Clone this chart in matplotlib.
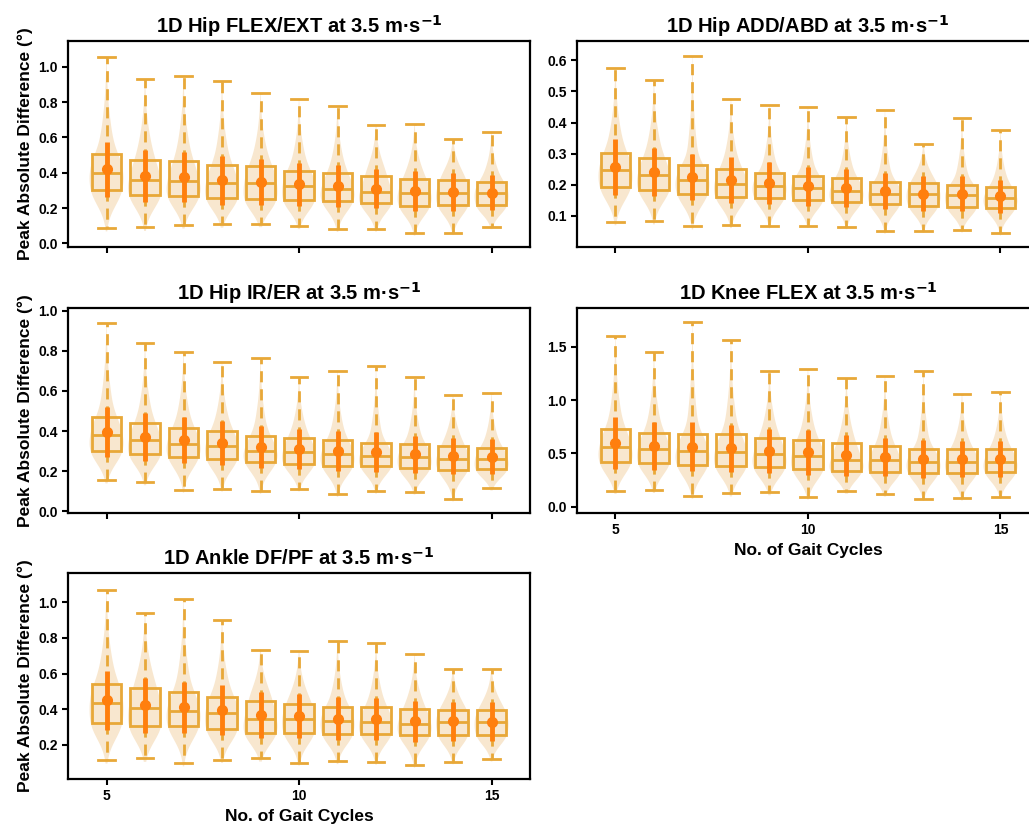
import numpy as np
import matplotlib
import matplotlib.pyplot as plt
from statistics import NormalDist

matplotlib.use('agg')

plt.rcParams['font.family'] = ['Liberation Sans', 'DejaVu Sans']
plt.rcParams['font.weight'] = 'bold'
plt.rcParams['axes.labelweight'] = 'bold'
plt.rcParams['axes.titleweight'] = 'bold'
plt.rcParams['mathtext.fontset'] = 'dejavusans'

cycles = [5, 6, 7, 8, 9, 10, 11, 12, 13, 14, 15]

# Hip FLEX/EXT
flex_lo = [0.089, 0.091, 0.104, 0.108, 0.111, 0.098, 0.081, 0.083, 0.060, 0.062, 0.094]
flex_q1 = [0.300, 0.274, 0.270, 0.258, 0.251, 0.245, 0.240, 0.228, 0.213, 0.217, 0.217]
flex_med = [0.400, 0.358, 0.353, 0.342, 0.342, 0.326, 0.308, 0.291, 0.283, 0.285, 0.283]
flex_q3 = [0.504, 0.472, 0.464, 0.442, 0.436, 0.411, 0.396, 0.383, 0.364, 0.360, 0.345]
flex_hi = [1.053, 0.932, 0.947, 0.919, 0.851, 0.817, 0.779, 0.670, 0.674, 0.592, 0.628]
flex_mean = [0.419, 0.383, 0.377, 0.358, 0.349, 0.336, 0.326, 0.311, 0.298, 0.292, 0.287]
flex_sd = [0.155, 0.146, 0.140, 0.138, 0.130, 0.122, 0.118, 0.112, 0.112, 0.108, 0.100]

# Hip ADD/ABD
add_lo = [0.081, 0.083, 0.066, 0.070, 0.068, 0.069, 0.065, 0.050, 0.053, 0.054, 0.044]
add_q1 = [0.193, 0.184, 0.171, 0.162, 0.159, 0.150, 0.146, 0.137, 0.133, 0.129, 0.126]
add_med = [0.246, 0.230, 0.216, 0.204, 0.197, 0.190, 0.181, 0.172, 0.169, 0.166, 0.158]
add_q3 = [0.303, 0.286, 0.265, 0.252, 0.238, 0.227, 0.221, 0.210, 0.205, 0.200, 0.194]
add_hi = [0.576, 0.536, 0.614, 0.475, 0.457, 0.449, 0.418, 0.440, 0.331, 0.414, 0.376]
add_mean = [0.258, 0.241, 0.224, 0.216, 0.205, 0.195, 0.190, 0.180, 0.172, 0.171, 0.163]
add_sd = [0.090, 0.078, 0.074, 0.073, 0.068, 0.063, 0.060, 0.058, 0.057, 0.056, 0.054]

# Hip IR/ER
rot_lo = [0.156, 0.146, 0.108, 0.113, 0.101, 0.113, 0.086, 0.100, 0.096, 0.061, 0.115]
rot_q1 = [0.302, 0.284, 0.271, 0.261, 0.246, 0.238, 0.226, 0.224, 0.214, 0.208, 0.209]
rot_med = [0.379, 0.354, 0.337, 0.326, 0.302, 0.296, 0.284, 0.277, 0.272, 0.262, 0.261]
rot_q3 = [0.468, 0.440, 0.417, 0.402, 0.377, 0.367, 0.355, 0.342, 0.334, 0.327, 0.317]
rot_hi = [0.940, 0.841, 0.796, 0.746, 0.766, 0.668, 0.701, 0.726, 0.669, 0.580, 0.590]
rot_mean = [0.395, 0.370, 0.354, 0.341, 0.319, 0.312, 0.301, 0.296, 0.284, 0.277, 0.272]
rot_sd = [0.123, 0.121, 0.114, 0.110, 0.104, 0.100, 0.100, 0.100, 0.093, 0.090, 0.088]

# Knee FLEX
knee_lo = [0.150, 0.156, 0.103, 0.125, 0.134, 0.094, 0.147, 0.119, 0.075, 0.078, 0.094]
knee_q1 = [0.419, 0.409, 0.394, 0.384, 0.369, 0.353, 0.338, 0.328, 0.319, 0.319, 0.322]
knee_med = [0.559, 0.538, 0.522, 0.516, 0.491, 0.478, 0.441, 0.434, 0.422, 0.422, 0.422]
knee_q3 = [0.728, 0.691, 0.681, 0.678, 0.644, 0.622, 0.597, 0.572, 0.541, 0.538, 0.541]
knee_hi = [1.597, 1.450, 1.728, 1.563, 1.275, 1.291, 1.206, 1.222, 1.275, 1.056, 1.078]
knee_mean = [0.597, 0.572, 0.563, 0.547, 0.522, 0.509, 0.481, 0.466, 0.447, 0.447, 0.447]
knee_sd = [0.245, 0.226, 0.228, 0.220, 0.205, 0.208, 0.190, 0.178, 0.175, 0.170, 0.170]

# Ankle DF/PF
ank_lo = [0.116, 0.125, 0.097, 0.116, 0.123, 0.099, 0.106, 0.103, 0.086, 0.104, 0.119]
ank_q1 = [0.322, 0.303, 0.303, 0.288, 0.266, 0.267, 0.260, 0.260, 0.252, 0.254, 0.256]
ank_med = [0.434, 0.404, 0.391, 0.378, 0.346, 0.346, 0.335, 0.329, 0.318, 0.326, 0.326]
ank_q3 = [0.543, 0.518, 0.494, 0.470, 0.445, 0.429, 0.410, 0.410, 0.399, 0.393, 0.393]
ank_hi = [1.069, 0.940, 1.019, 0.901, 0.734, 0.728, 0.785, 0.773, 0.708, 0.627, 0.627]
ank_mean = [0.449, 0.421, 0.410, 0.393, 0.367, 0.361, 0.346, 0.342, 0.331, 0.331, 0.329]
ank_sd = [0.165, 0.156, 0.145, 0.140, 0.130, 0.125, 0.120, 0.118, 0.115, 0.110, 0.110]

BOX_C = '#E8A838'
MEAN_C = '#FF7F0E'
Z_KNOTS = [-2.9, -0.6745, 0.0, 0.6745, 2.9]
nd = NormalDist()


def violin_stats(lo, q1, med, q3, hi):
    """Smooth density shape through the five-number summary."""
    p = np.linspace(0.002, 0.998, 400)
    z = np.array([nd.inv_cdf(v) for v in p])
    pts = np.interp(z, Z_KNOTS, [lo, q1, med, q3, hi])
    coords = np.linspace(lo - 0.1 * (q3 - q1), hi, 200)
    bw = 0.3 * (q3 - q1)
    vals = np.exp(-0.5 * ((coords[:, None] - pts[None, :]) / bw) ** 2).sum(axis=1)
    return dict(coords=coords, vals=vals, mean=np.mean(pts), median=med,
                min=lo, max=hi, quantiles=[])


def panel(ax, title, lo, q1, med, q3, hi, mean, sd, ylim, yticks):
    vps = [violin_stats(*s) for s in zip(lo, q1, med, q3, hi)]
    parts = ax.violin(vps, positions=cycles, widths=0.88,
                      showmeans=False, showextrema=False, showmedians=False)
    for b in parts['bodies']:
        b.set_facecolor('#E9B060')
        b.set_edgecolor('none')
        b.set_alpha(0.3)
    stats = [dict(whislo=a, q1=b, med=c, q3=d, whishi=e, fliers=[])
             for a, b, c, d, e in zip(lo, q1, med, q3, hi)]
    ax.bxp(stats, positions=cycles, widths=0.76, patch_artist=True,
           boxprops=dict(facecolor='none', edgecolor=BOX_C, linewidth=2),
           medianprops=dict(color=BOX_C, linewidth=2),
           whiskerprops=dict(color=BOX_C, linewidth=2, linestyle=(0, (4, 2.5))),
           capprops=dict(color=BOX_C, linewidth=2), capwidths=0.42,
           manage_ticks=False)
    ax.errorbar(cycles, mean, yerr=sd, fmt='o', color=MEAN_C, ms=7,
                elinewidth=3.5, capsize=0, zorder=5)
    ax.set_title(title, fontsize=14.5, pad=6)
    ax.set_xlim(4, 16)
    ax.set_xticks([5, 10, 15])
    ax.set_ylim(*ylim)
    ax.set_yticks(yticks)
    for s in ax.spines.values():
        s.set_linewidth(1.6)
    ax.tick_params(width=1.5, length=4, labelsize=10)


fig = plt.figure(figsize=(10.29, 8.24), dpi=100)
W, H = 0.449, 0.25
ax1 = fig.add_axes([0.0661, 0.7002, W, H])
ax2 = fig.add_axes([0.5607, 0.7002, W, H])
ax3 = fig.add_axes([0.0661, 0.3774, W, 0.2488])
ax4 = fig.add_axes([0.5607, 0.3774, W, 0.2488])
ax5 = fig.add_axes([0.0661, 0.0546, W, H])

unit = r' at 3.5 m·s$^{\mathbf{-1}}$'
panel(ax1, '1D Hip FLEX/EXT' + unit, flex_lo, flex_q1, flex_med, flex_q3, flex_hi,
      flex_mean, flex_sd, (-0.02, 1.145), np.arange(0, 1.01, 0.2))
panel(ax2, '1D Hip ADD/ABD' + unit, add_lo, add_q1, add_med, add_q3, add_hi,
      add_mean, add_sd, (0.0, 0.662), np.arange(0.1, 0.61, 0.1))
panel(ax3, '1D Hip IR/ER' + unit, rot_lo, rot_q1, rot_med, rot_q3, rot_hi,
      rot_mean, rot_sd, (-0.008, 1.013), np.arange(0, 1.01, 0.2))
panel(ax4, '1D Knee FLEX' + unit, knee_lo, knee_q1, knee_med, knee_q3, knee_hi,
      knee_mean, knee_sd, (-0.06, 1.863), [0.0, 0.5, 1.0, 1.5])
panel(ax5, '1D Ankle DF/PF' + unit, ank_lo, ank_q1, ank_med, ank_q3, ank_hi,
      ank_mean, ank_sd, (0.007, 1.165), np.arange(0.2, 1.01, 0.2))

for ax in (ax1, ax2, ax3):
    ax.tick_params(labelbottom=False)
for ax in (ax1, ax3, ax5):
    ax.set_ylabel('Peak Absolute Difference (°)', fontsize=12.5)
for ax in (ax4, ax5):
    ax.set_xlabel('No. of Gait Cycles', fontsize=12.5)

fig.savefig('out.png', dpi=100)
